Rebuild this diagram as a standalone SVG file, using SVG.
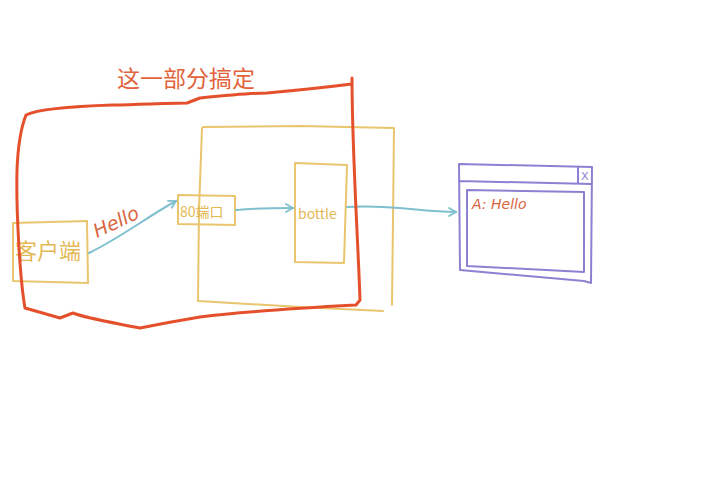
<svg xmlns="http://www.w3.org/2000/svg" width="720" height="500" viewBox="0 0 720 500">
<style>
.y{fill:none;stroke:#e9c56d;stroke-width:2;stroke-linejoin:round;stroke-linecap:round}
.p{fill:none;stroke:#8d80d2;stroke-width:2;stroke-linejoin:round;stroke-linecap:round}
.c{fill:none;stroke:#7fc0cf;stroke-width:2;stroke-linecap:round}
.r{fill:none;stroke:#e5502c;stroke-width:3;stroke-linejoin:round;stroke-linecap:round}
.yt{fill:#e3b955;font-family:"Noto Sans CJK SC","DejaVu Sans",sans-serif}
.rt{fill:#d9643f;font-family:"DejaVu Sans","Noto Sans CJK SC",sans-serif;font-style:italic}
</style>
<defs>
<marker id="ah" markerWidth="10" markerHeight="10" refX="8" refY="5" orient="auto" markerUnits="userSpaceOnUse">
<path d="M1,1 L8,5 L1,9" fill="none" stroke="#7fc0cf" stroke-width="1.8" stroke-linecap="round"/>
</marker>
</defs>
<rect width="720" height="500" fill="#ffffff"/>
<text x="117" y="87" font-family="'Noto Sans CJK SC',sans-serif" font-size="23" fill="#e1633c">这一部分搞定</text>
<g id="server">
<path class="y" d="M203,127 L300,126 L394,128 L393,220 L392,305 M383,311 L300,307 L198,301 L199,210 L202,128"/>
</g>
<g id="client">
<path class="y" d="M13,223 L87,221 L88,283 L13,281 Z"/>
<text class="yt" x="15" y="259" font-size="22">客户端</text>
</g>
<g id="port80">
<path class="y" d="M178,195 L235,196 L235,225 L178,224 Z"/>
<text class="yt" x="180" y="217" font-size="14">80端口</text>
</g>
<g id="bottle">
<path class="y" d="M295,163 L347,165 L344,263 L295,262 Z"/>
<text class="yt" x="298" y="219" font-size="14">bottle</text>
</g>
<g id="window">
<path class="p" d="M459,164 L592,167 L591,283 L584,281 L460,270 L459,164 M459,181 L592,184 M578,167 L578,183"/>
<text x="581" y="180" font-family="'DejaVu Sans',sans-serif" font-size="11" fill="#8d80d2">X</text>
<path class="p" d="M467,190 L584,192 L584,272 L467,266 Z"/>
<text class="rt" x="472" y="209" font-size="14">A: Hello</text>
</g>
<g id="connectors">
<path class="c" d="M89,253 C120,238 150,215 176,201" marker-end="url(#ah)"/>
<path class="c" d="M236,210 C255,208 275,208 293,208" marker-end="url(#ah)"/>
<path class="c" d="M347,207 C390,204 420,212 456,212" marker-end="url(#ah)"/>
</g>
<text class="rt" x="97" y="238" font-size="19" transform="rotate(-25 97 238)">Hello</text>
<g id="scope">
<path class="r" d="M352,78 C352,150 358,240 360,300 L356,305 C300,308 240,312 200,317 C170,322 150,326 140,328 C110,322 85,318 73,313 L60,318 L25,308 C20,280 16,210 17,170 C18,145 22,125 26,115 C40,108 80,106 113,105 C150,104 175,103 187,103 L200,98 C230,95 260,93 267,93 C300,90 320,88 352,84"/>
</g>
</svg>
